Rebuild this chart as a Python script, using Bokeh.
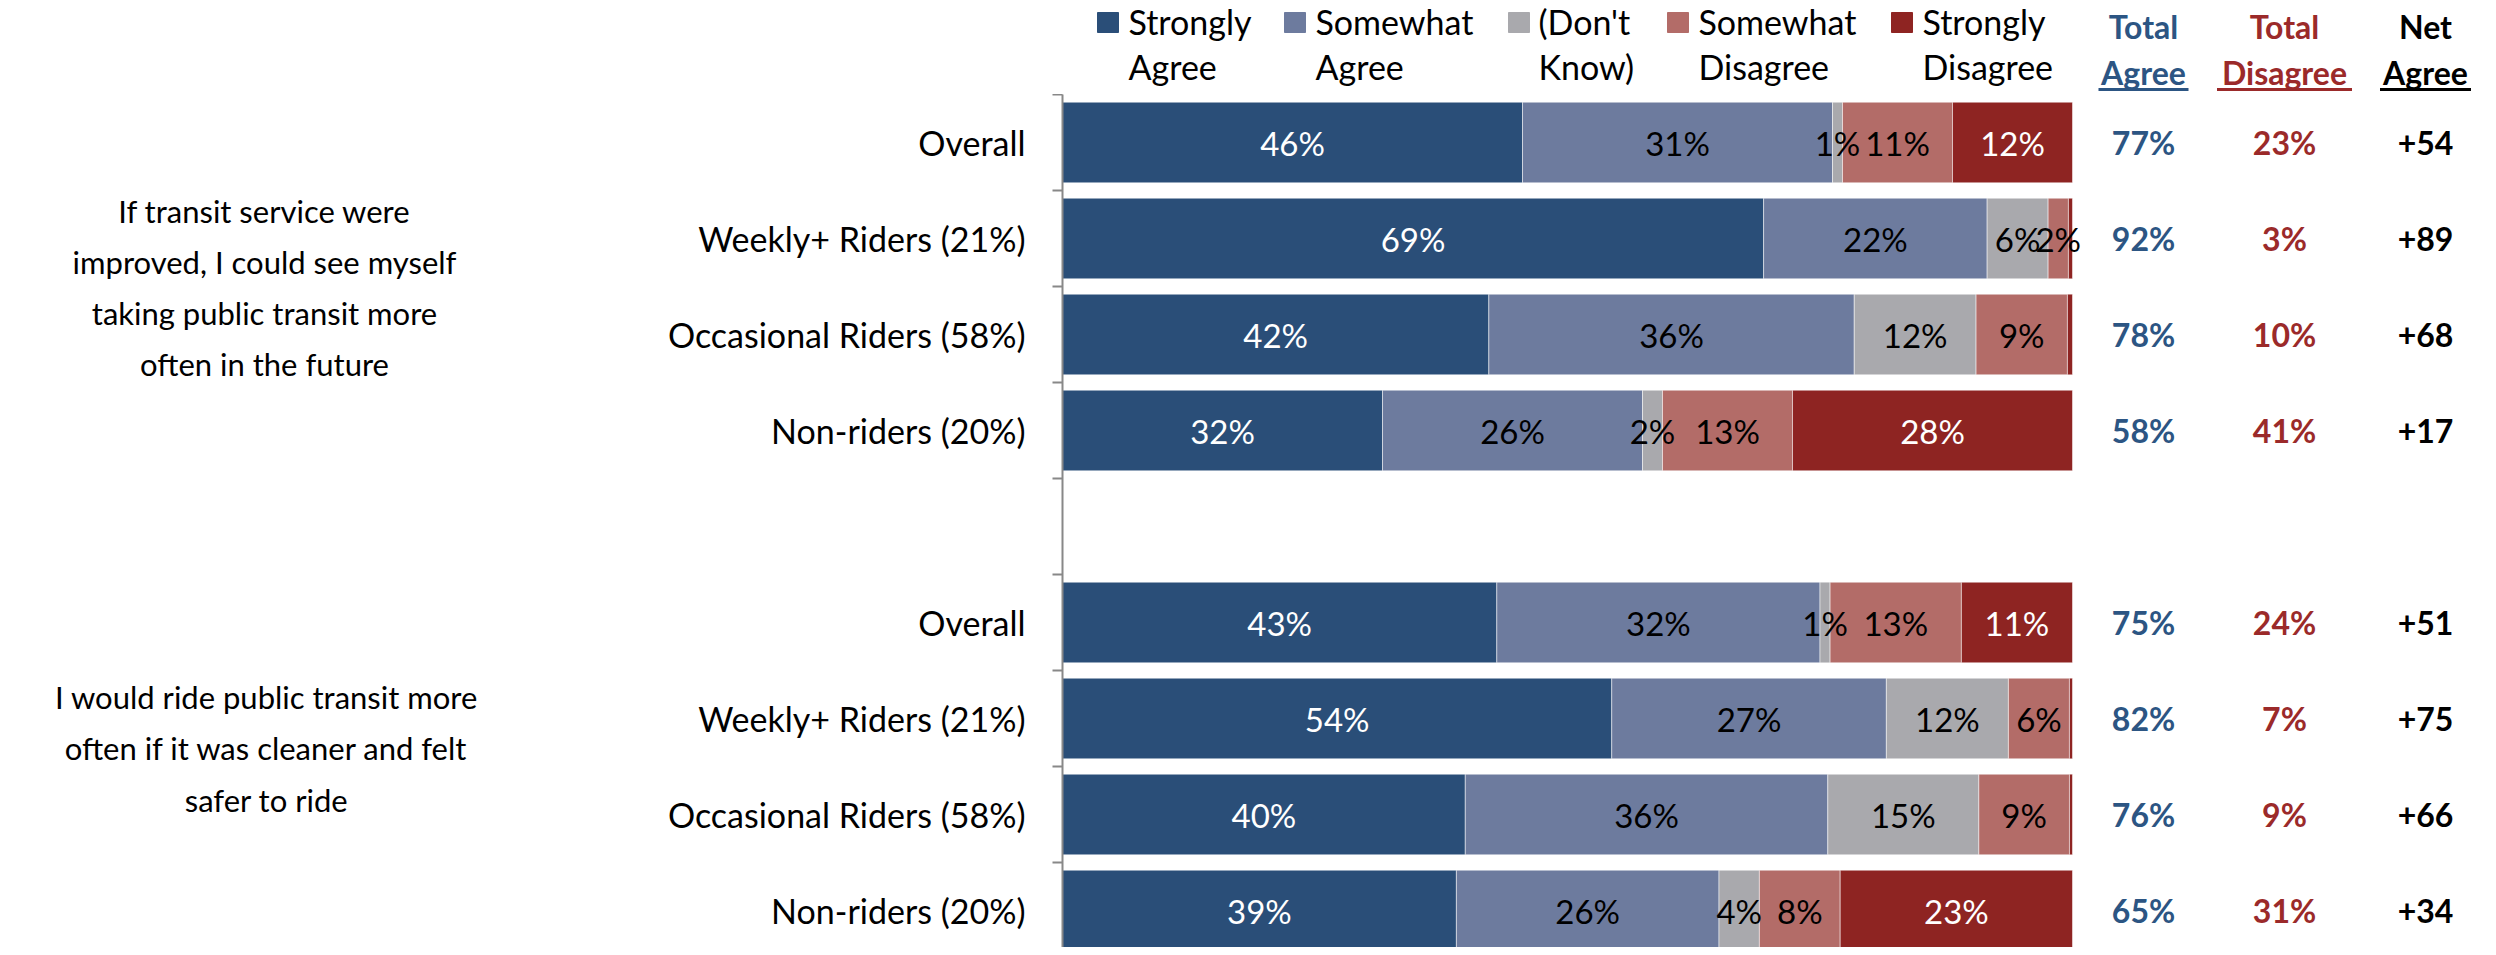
from bokeh.plotting import figure
from bokeh.models import ColumnDataSource, Range1d, FixedTicker
from bokeh.layouts import column, row
from bokeh.embed import file_html
from bokeh.resources import INLINE
from bokeh.core.properties import value

# ---------------- data ----------------
questions = [
    "If transit service were\nimproved, I could see myself\ntaking public transit more\noften in the future",
    "I would ride public transit more\noften if it was cleaner and felt\nsafer to ride",
]
row_labels = ["Overall", "Weekly+ Riders (21%)", "Occasional Riders (58%)", "Non-riders (20%)",
              "Overall", "Weekly+ Riders (21%)", "Occasional Riders (58%)", "Non-riders (20%)"]
row_pos = [0, 1, 2, 3, 5, 6, 7, 8]

series = ["Strongly\nAgree", "Somewhat\nAgree", "(Don't\nKnow)", "Somewhat\nDisagree", "Strongly\nDisagree"]
strongly_agree = [46, 69, 42, 32, 43, 54, 40, 39]
somewhat_agree = [31, 22, 36, 26, 32, 27, 36, 26]
dont_know = [1, 6, 12, 2, 1, 12, 15, 4]
somewhat_disagree = [11, 2, 9, 13, 13, 6, 9, 8]
strongly_disagree = [12, 0.4, 0.5, 28, 11, 0.3, 0.3, 23]

header_labels = ["Total\nAgree", "Total\nDisagree", "Net\nAgree"]
total_agree = [77, 92, 78, 58, 75, 82, 76, 65]
total_disagree = [23, 3, 10, 41, 24, 7, 9, 31]
net_agree = [54, 89, 68, 17, 51, 75, 66, 34]

# ---------------- styles ----------------
colors = ["#2A4E78", "#6D7B9E", "#A9A9AD", "#B36C68", "#8E2422"]
label_colors = ["white", "black", "black", "black", "white"]
agree_color = "#2C5583"
disagree_color = "#9B2A2A"
FONT = value("Lato")

# layout (screen px)
FRAME_LEFT = 1062
FRAME_RIGHT = 2488
TOP_H = 94
TOTAL_H = 947
LEFT_W = 1042
PX_PER_PCT = 10.1

# ---------------- main chart ----------------
values = [strongly_agree, somewhat_agree, dont_know, somewhat_disagree, strongly_disagree]
n = len(row_pos)
totals = [sum(v[i] for v in values) for i in range(n)]
keys = ["s%d" % k for k in range(len(values))]
data = {"y": row_pos}
for k, v in zip(keys, values):
    data[k] = [v[i] / totals[i] * 100 for i in range(n)]
src = ColumnDataSource(data)

main_h = TOTAL_H - TOP_H
y_range = Range1d(-0.5 + main_h / 96.0, -0.5)
x_end = (FRAME_RIGHT - FRAME_LEFT) / PX_PER_PCT
p = figure(width=FRAME_RIGHT - LEFT_W, height=main_h, x_range=Range1d(0, x_end), y_range=y_range,
           x_axis_location=None, toolbar_location=None, output_backend="svg",
           min_border_left=FRAME_LEFT - LEFT_W, min_border_right=0, min_border_top=0,
           min_border_bottom=0)
p.outline_line_color = None
p.xgrid.visible = False
p.ygrid.visible = False

p.hbar_stack(keys, y="y", height=0.84, color=colors, line_color="white",
             line_width=1, line_alpha=0.5, source=src)

# segment labels
lx, ly, lt, lc = [], [], [], []
for i in range(n):
    left = 0.0
    for k, v in enumerate(values):
        w = data[keys[k]][i]
        if v[i] >= 1:
            lx.append(left + w / 2)
            ly.append(row_pos[i])
            lt.append("%d%%" % round(v[i]))
            lc.append(label_colors[k])
        left += w
p.text(x="x", y="y", text="t", text_color="c", source=ColumnDataSource(dict(x=lx, y=ly, t=lt, c=lc)),
       text_align="center", text_baseline="middle", text_font=FONT, text_font_size="33px")

# right-side summary columns
col_x = [(c - FRAME_LEFT) / PX_PER_PCT for c in (2143, 2284, 2425)]
for cx, txt, colr in [
    (col_x[0], ["%d%%" % v for v in total_agree], agree_color),
    (col_x[1], ["%d%%" % v for v in total_disagree], disagree_color),
    (col_x[2], ["%+d" % v for v in net_agree], "black"),
]:
    p.text(x=cx, y=row_pos, text=txt, text_color=colr, text_align="center",
           text_baseline="middle", text_font=FONT, text_font_size="32px", text_font_style="bold")

# category axis: ticks at slot boundaries, labels drawn in left panel
ax = p.yaxis[0]
boundaries = [-0.5 + j for j in range(10)]
ax.ticker = FixedTicker(ticks=row_pos, minor_ticks=boundaries)
ax.major_label_overrides = {pos: "" for pos in row_pos}
ax.major_label_text_font_size = "0px"
ax.major_label_standoff = 0
ax.axis_line_color = "#888888"
ax.axis_line_width = 2
ax.major_tick_line_color = None
ax.major_tick_out = 0
ax.major_tick_in = 0
ax.minor_tick_line_color = "#888888"
ax.minor_tick_line_width = 2
ax.minor_tick_out = 10
ax.minor_tick_in = 0

# ---------------- left panel: question texts + row labels ----------------
pl = figure(width=LEFT_W, height=main_h, x_range=Range1d(0, LEFT_W), y_range=y_range,
            x_axis_location=None, y_axis_location=None, toolbar_location=None,
            output_backend="svg", min_border=0)
pl.outline_line_color = None
pl.xgrid.visible = False
pl.ygrid.visible = False
pl.text(x=[264, 266], y=[1.51, 6.31], text=questions, text_align="center", text_baseline="middle",
        text_font=FONT, text_font_size="31px", text_line_height=1.35, text_color="black")
pl.text(x=1025, y=row_pos, text=row_labels, text_align="right", text_baseline="middle",
        text_font=FONT, text_font_size="34px", text_color="black")

# ---------------- top: legend + headers ----------------
pt = figure(width=FRAME_RIGHT, height=TOP_H, x_range=Range1d(FRAME_LEFT, FRAME_RIGHT),
            y_range=Range1d(TOP_H, 0), x_axis_location=None, y_axis_location=None,
            toolbar_location=None, output_backend="svg", min_border_left=FRAME_LEFT,
            min_border_right=0, min_border_top=0, min_border_bottom=0)
pt.outline_line_color = None
pt.xgrid.visible = False
pt.ygrid.visible = False

sq_x = [1107.5, 1294.5, 1518.5, 1677.5, 1901.5]
tx_x = [1128, 1315, 1538, 1698, 1922]
pt.rect(x=sq_x, y=22, width=21, height=20, color=colors)
pt.text(x=tx_x, y=21, text=[s.split("\n")[0] for s in series], text_align="left",
        text_baseline="middle", text_font=FONT, text_font_size="34px", text_color="black")
pt.text(x=tx_x, y=66, text=[s.split("\n")[1] for s in series], text_align="left",
        text_baseline="middle", text_font=FONT, text_font_size="34px", text_color="black")

hx = [2143, 2284, 2425]
hcol = [agree_color, disagree_color, "black"]
hw = [90, 135, 91]
pt.text(x=hx, y=26, text=[h.split("\n")[0] for h in header_labels], text_color=hcol,
        text_align="center", text_baseline="middle", text_font=FONT, text_font_size="32px",
        text_font_style="bold")
pt.text(x=hx, y=72, text=[h.split("\n")[1] for h in header_labels], text_color=hcol,
        text_align="center", text_baseline="middle", text_font=FONT, text_font_size="32px",
        text_font_style="bold")
pt.segment(x0=[c - w / 2 for c, w in zip(hx, hw)], x1=[c + w / 2 for c, w in zip(hx, hw)],
           y0=89, y1=89, line_color=hcol, line_width=3)

layout = column(pt, row(pl, p, spacing=0), spacing=0)
open("out.html", "w").write(file_html(layout, INLINE))
